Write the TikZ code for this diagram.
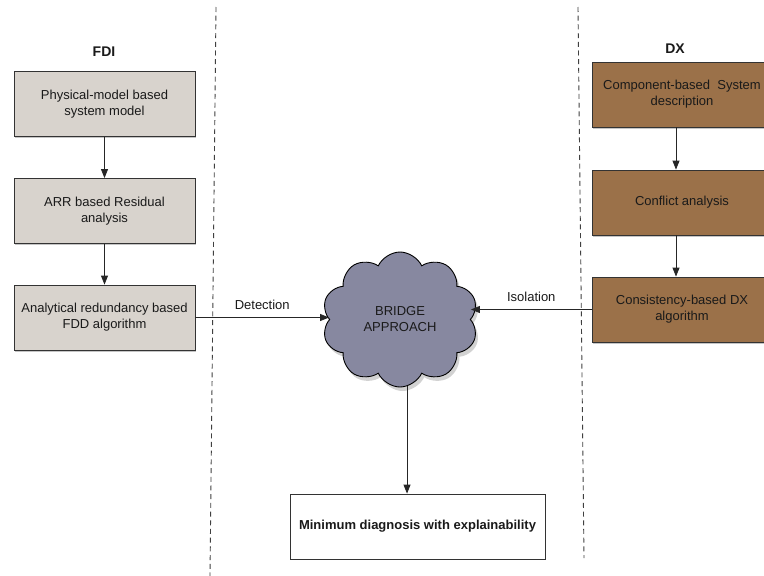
\documentclass[tikz,border=0pt]{standalone}
\usepackage{fontspec}
\setmainfont{Liberation Sans}
\usetikzlibrary{shapes.symbols,arrows.meta,shadows}
\definecolor{fdifill}{HTML}{D8D3CD}
\definecolor{dxfill}{HTML}{9B7149}
\definecolor{cloudfill}{HTML}{8788A0}
\definecolor{txt}{HTML}{1A1A1A}
\tikzset{
  fdibox/.style={draw=black!80, line width=0.8pt, fill=fdifill, minimum width=181pt, minimum height=65pt, align=center, text=txt, font=\fontsize{13}{16}\selectfont, inner sep=0pt, drop shadow={shadow xshift=1.2pt, shadow yshift=-1.5pt, opacity=0.45}},
  dxbox/.style={fdibox, fill=dxfill, minimum width=180pt},
  resbox/.style={draw=black!80, line width=0.8pt, fill=white, minimum width=255pt, minimum height=65pt, align=center, text=txt, font=\fontsize{13}{16}\selectfont\bfseries},
  head/.style={font=\fontsize{14}{16}\selectfont\bfseries, text=txt},
  arr/.style={draw=black!85, line width=0.8pt, -{Triangle[length=9pt,width=7pt]}},
  lbl/.style={font=\fontsize{13}{16}\selectfont, text=txt},
  sep/.style={draw=black!75, line width=0.9pt, dash pattern=on 5pt off 3.7pt},
  bridge/.style={cloud, cloud puffs=10, cloud puff arc=130, aspect=1.15, draw=black, line width=0.9pt, fill=cloudfill, minimum width=156pt, minimum height=135pt, align=center, text=txt, font=\fontsize{13}{16}\selectfont, inner sep=0pt, drop shadow={shadow xshift=2.5pt, shadow yshift=-4pt, opacity=0.35}}
}
\begin{document}
\begin{tikzpicture}[x=1pt,y=-1pt]
\useasboundingbox (0,0) rectangle (764,576);
\fill[white] (0,0) rectangle (764,576);
\begin{scope}
\clip (0,0) rectangle (764,576);
\draw[sep] (216,7) -- (210,576);
\draw[sep] (578,7) -- (584,558);

\node[head] (fdi) at (104,52) {FDI};
\node[fdibox] (L1) at (104.5,104) {Physical-model based\\system model};
\node[fdibox] (L2) at (104.5,211) {ARR based Residual\\analysis};
\node[fdibox] (L3) at (104.5,317.5) {Analytical redundancy based\\FDD algorithm};

\node[head] (dx) at (675,49) {DX};
\node[dxbox] (R1) at (682,94.5) {Component-based\ \ System\\description};
\node[dxbox] (R2) at (682,202.5) {Conflict analysis};
\node[dxbox] (R3) at (682,309.5) {Consistency-based DX\\algorithm};

\node[bridge] (cl) at (400,319.5) {BRIDGE\\APPROACH};
\node[resbox] (res) at (417.5,526.5) {Minimum diagnosis with explainability};

\draw[arr] (L1.south) -- (L2.north);
\draw[arr] (L2.south) -- (L3.north);
\draw[arr] (R1.south) ++(-6,0) -- ([xshift=-6pt]R2.north);
\draw[arr] (R2.south) ++(-6,0) -- ([xshift=-6pt]R3.north);
\draw[arr] (L3.east) -- (L3.east -| cl.west) node[lbl, midway, above=4pt] (det) {Detection};
\draw[arr] (R3.west) -- (R3.west -| cl.east) node[lbl, midway, above=4pt] (iso) {Isolation};
\draw[arr] (cl.-84) -- (cl.-84 |- res.north);
\end{scope}
\end{tikzpicture}
\end{document}
